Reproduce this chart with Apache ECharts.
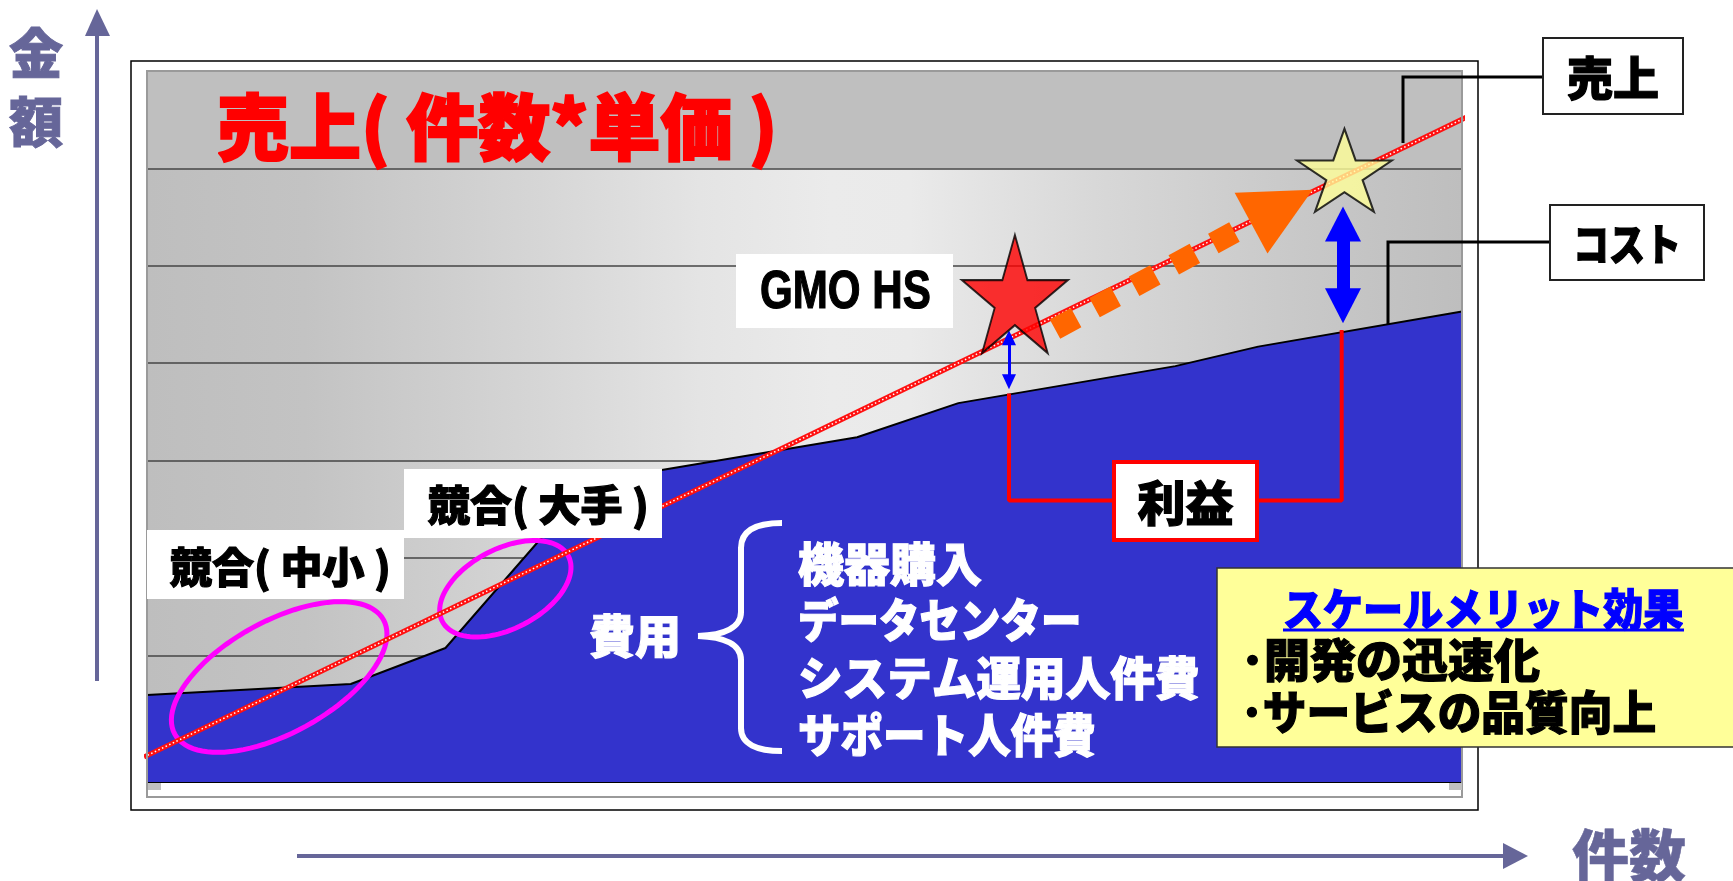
<!DOCTYPE html>
<html><head><meta charset="utf-8">
<script src="https://cdn.jsdelivr.net/npm/echarts@6/dist/echarts.min.js"></script>
<style>html,body{margin:0;padding:0;background:#fff;}#c{width:1733px;height:881px;}</style>
</head><body><div id="c"></div>
<script>
// ---- data (x: 件数 scale 0-100, y: 金額 scale 0-73) ----
const costX = [0, 0, 15.5, 22.7, 33.7, 54.0, 61.7, 78.2, 84.5, 100, 100];
const costY = [0, 8.93, 10.06, 13.76, 30.8, 35.4, 38.9, 42.7, 44.7, 48.3, 0];
const salesX = [-0.23, 100.4];
const salesY = [2.57, 68.3];
const gridLevels = [3, 13, 23, 33, 43, 53, 63];
const topBand = [63, 73];
const gmoStar = [66.0, 50.1];
const targetStar = [91.06, 62.8];
const growthFrom = [69.05, 46.5];
const growthTo = [86.3, 59.1];
const profitNowX = 65.55, profitNowTop = 45.6, profitNowBottom = 41.1;
const profitTargetX = 90.95, profitTargetTop = 57.3, profitTargetBottom = 48.9;
const profitLinkX = [65.55, 65.55, 90.85, 90.85];
const profitLinkY = [39.9, 28.9, 28.9, 46.4];
const rivalX = [10.05, 27.25];
const rivalY = [10.78, 19.84];
const costItems = ['機器購入', 'データセンター', 'システム運用人件費', 'サポート人件費'];
const meritItems = ['･開発の迅速化', '･サービスの品質向上'];

const zip = (a, b) => a.map((v, i) => [v, b[i]]);
const JP = '"Noto Sans CJK JP", sans-serif';
const W = '900 ';
const starPath = 'path://M50,0 L61.23,34.55 L97.55,34.55 L68.17,55.9 L79.39,90.45 L50,69.1 L20.61,90.45 L31.83,55.9 L2.45,34.55 L38.77,34.55 Z';

function txt(text, x, y, size, color, align, sx, family, sw) {
  return {
    type: 'text', x: x, y: y, z: 100, scaleX: sx || 1,
    style: { text: text, fill: color, stroke: color, lineWidth: sw == null ? 1.2 : sw,
      font: W + size + 'px ' + (family || JP),
      textAlign: align || 'left', textVerticalAlign: 'middle', align: align || 'left', verticalAlign: 'middle' }
  };
}
function box(x, y, w, h, fill, stroke, lw) {
  return { type: 'rect', z: 90, shape: { x: x, y: y, width: w, height: h },
    style: { fill: fill, stroke: stroke || null, lineWidth: lw || 0 } };
}
function bz(p) {
  return { type: 'bezierCurve', z: 100, shape: { x1: p[0], y1: p[1], cpx1: p[2], cpy1: p[3], cpx2: p[4], cpy2: p[5], x2: p[6], y2: p[7] },
    style: { fill: 'none', stroke: '#fff', lineWidth: 6 } };
}
function ln(x1, y1, x2, y2, color, w, z) {
  return { type: 'line', z: z || 100, shape: { x1: x1, y1: y1, x2: x2, y2: y2 }, style: { stroke: color, lineWidth: w } };
}

const graphics = [
  { type: 'rect', z: 0, shape: { x: 131, y: 61, width: 1347, height: 749 }, style: { fill: 'none', stroke: '#000', lineWidth: 1.5 } },
  { type: 'rect', z: 50, shape: { x: 147, y: 71, width: 1315, height: 726 }, style: { fill: 'none', stroke: '#9a9a9a', lineWidth: 2 } },
  { type: 'rect', z: 50, shape: { x: 148, y: 783, width: 13, height: 7 }, style: { fill: '#c0c0c0' } },
  { type: 'rect', z: 50, shape: { x: 1449, y: 783, width: 13, height: 7 }, style: { fill: '#c0c0c0' } },
  // axes arrows
  ln(97, 30, 97, 681, '#666699', 4, 10),
  { type: 'polygon', z: 10, shape: { points: [[97, 9], [85, 36], [110, 36]] }, style: { fill: '#666699' } },
  ln(297, 856, 1505, 856, '#666699', 4, 10),
  { type: 'polygon', z: 10, shape: { points: [[1528, 856], [1503, 843], [1503, 869]] }, style: { fill: '#666699' } },
  txt('金', 36, 53, 54, '#666699', 'center', 1, null, 1),
  txt('額', 36, 122, 54, '#666699', 'center', 1, null, 1),
  txt('件数', 1572, 855, 57, '#666699', 'left', 1, null, 0.5),
  // title
  txt('売上( 件数*単価 )', 217, 127, 72, '#FF0000', 'left', 1, null, 2),
  // GMO HS
  box(736, 254, 217, 74, '#fff'),
  txt('GMO HS', 760, 293, 54, '#000', 'left', 0.78, '"Liberation Sans", Arial, sans-serif', 1.2),
  // rivals
  box(147, 530, 257, 69, '#fff'),
  txt('競合( 中小 )', 170, 567, 42, '#000', 'left'),
  box(404, 469, 258, 69, '#fff'),
  txt('競合( 大手 )', 428, 505, 42, '#000', 'left'),
  // costs
  txt('費用', 589, 636, 46, '#fff', 'left'),
  bz([782, 523, 757, 523, 741, 530, 741, 548]),
  ln(741, 547, 741, 613, '#fff', 6),
  bz([741, 612, 741, 627, 725, 635, 698, 636]),
  bz([698, 636, 725, 637, 741, 645, 741, 660]),
  ln(741, 659, 741, 729, '#fff', 6),
  bz([741, 728, 741, 744, 757, 751, 782, 751]),
  txt(costItems[0], 798, 564, 46, '#fff', 'left', 1.0),
  txt(costItems[1], 798, 620, 46, '#fff', 'left', 0.88),
  txt(costItems[2], 798, 678, 46, '#fff', 'left', 0.97),
  txt(costItems[3], 798, 735, 46, '#fff', 'left', 0.925),
  // profit
  box(1114, 462, 143, 78, '#fff', '#FF0000', 4),
  txt('利益', 1185.5, 503, 48, '#000', 'center'),
  // callouts
  { type: 'polyline', z: 80, shape: { points: [[1543, 77], [1403, 77], [1403, 143]] }, style: { fill: 'none', stroke: '#000', lineWidth: 3 } },
  { type: 'polyline', z: 80, shape: { points: [[1550, 242], [1388, 242], [1388, 325]] }, style: { fill: 'none', stroke: '#000', lineWidth: 3 } },
  box(1543, 38, 140, 76, '#fff', '#222', 2),
  txt('売上', 1613, 78, 46, '#000', 'center'),
  box(1550, 205, 154, 75, '#fff', '#222', 2),
  txt('コスト', 1627, 244, 44, '#000', 'center', 0.82),
  // merit box
  box(1217, 568, 530, 179, '#FFFF99', '#333', 1.5),
  txt('スケールメリット効果', 1283, 609, 44, '#0000FF', 'left', 0.91),
  ln(1283, 630, 1684, 630, '#0000FF', 3),
  txt(meritItems[0], 1241, 660, 46, '#000', 'left'),
  txt(meritItems[1], 1241, 712, 46, '#000', 'left', 0.95)
];

function ellipseItem(params, api) {
  const c = api.coord([api.value(0), api.value(1)]);
  const rx = api.value(2), ry = api.value(3), th = api.value(4) * Math.PI / 180;
  const pts = [];
  for (let i = 0; i < 96; i++) {
    const t = i / 96 * Math.PI * 2;
    const ex = rx * Math.cos(t), ey = ry * Math.sin(t);
    pts.push([c[0] + ex * Math.cos(th) + ey * Math.sin(th), c[1] - ex * Math.sin(th) + ey * Math.cos(th)]);
  }
  return { type: 'polygon', shape: { points: pts }, style: { fill: 'none', stroke: '#FF00FF', lineWidth: 5 } };
}

const chart = echarts.init(document.getElementById('c'), null, { renderer: 'canvas' });
chart.setOption({
  animation: false,
  backgroundColor: '#fff',
  grid: {
    left: 147, top: 71, right: 271, bottom: 99, show: true, borderWidth: 0,
    backgroundColor: { type: 'linear', x: 0, y: 0, x2: 1, y2: 0, colorStops: [
      { offset: 0, color: '#BEBEBE' }, { offset: 0.12, color: '#C3C3C3' }, { offset: 0.3, color: '#D6D6D6' },
      { offset: 0.42, color: '#E4E4E4' }, { offset: 0.52, color: '#EBEBEB' }, { offset: 0.58, color: '#EAEAEA' },
      { offset: 0.72, color: '#D8D8D8' }, { offset: 0.88, color: '#C8C8C8' }, { offset: 1, color: '#BEBEBE' } ] }
  },
  xAxis: { type: 'value', min: 0, max: 100, show: false },
  yAxis: { type: 'value', min: 0, max: 73, show: false },
  graphic: { elements: graphics },
  series: [
    { type: 'line', z: 1, data: [], silent: true,
      markArea: { z: 1, silent: true, label: { show: false }, itemStyle: { color: '#BFBFBF' },
        data: [[{ yAxis: topBand[0] }, { yAxis: topBand[1] }]] } },
    { type: 'line', z: 2, data: [], silent: true,
      markLine: { z: 2, silent: true, symbol: 'none', label: { show: false },
        lineStyle: { color: '#444', width: 1.5, type: 'solid' },
        data: gridLevels.map(v => ({ yAxis: v })) } },
    { name: 'コスト', type: 'line', z: 3, data: zip(costX, costY), symbol: 'none', silent: true,
      lineStyle: { color: '#000', width: 2 }, areaStyle: { color: '#3333CC', opacity: 1 },
      markLine: { z: 3, silent: true, symbol: 'none', label: { show: false },
        lineStyle: { color: '#000', width: 2, type: 'solid' }, data: [{ yAxis: 0 }] } },
    { type: 'custom', z: 4, silent: true, renderItem: ellipseItem,
      data: [[rivalX[0], rivalY[0], 119, 56, 28.7], [rivalX[1], rivalY[1], 71, 40, 27.4]] },
    { name: '売上', type: 'line', z: 5, data: zip(salesX, salesY), symbol: 'none', clip: false, silent: true,
      lineStyle: { color: '#FF1010', width: 5 } },
    { type: 'line', z: 5, data: zip(salesX, salesY), symbol: 'none', clip: false, silent: true,
      lineStyle: { color: '#FFFFFF', width: 1.5, type: [1.5, 2.5] } },
    { type: 'line', z: 6, data: zip(profitLinkX, profitLinkY), symbol: 'none', silent: true,
      lineStyle: { color: '#FF0000', width: 4 } },
    { type: 'line', z: 7, data: [], silent: true,
      markLine: { z: 7, silent: true, label: { show: false }, symbol: ['triangle', 'triangle'],
        data: [
          [{ coord: [profitNowX, profitNowTop], symbolSize: [14, 15], lineStyle: { color: '#0000FF', width: 3, type: 'solid' } },
           { coord: [profitNowX, profitNowBottom], symbolSize: [14, 15] }],
          [{ coord: [profitTargetX, profitTargetTop], symbolSize: [36, 35], lineStyle: { color: '#0000FF', width: 13, type: 'solid' } },
           { coord: [profitTargetX, profitTargetBottom], symbolSize: [36, 35] }]
        ] } },
    { type: 'line', z: 8, data: [], silent: true,
      markLine: { z: 8, silent: true, label: { show: false }, symbol: ['none', 'triangle'], symbolSize: [69, 70],
        lineStyle: { color: '#FF6600', width: 22, type: [24, 21], cap: 'butt' },
        data: [[{ coord: growthFrom }, { coord: growthTo }]] } },
    { type: 'scatter', z: 9, silent: true, symbol: starPath,
      itemStyle: { borderColor: '#000', borderWidth: 2 },
      data: [
        { value: gmoStar, symbolSize: [106, 118], itemStyle: { color: '#FF0000' } },
        { value: targetStar, symbolSize: [95, 83], itemStyle: { color: '#FFFF99' } } ] }
  ]
});
</script></body></html>
